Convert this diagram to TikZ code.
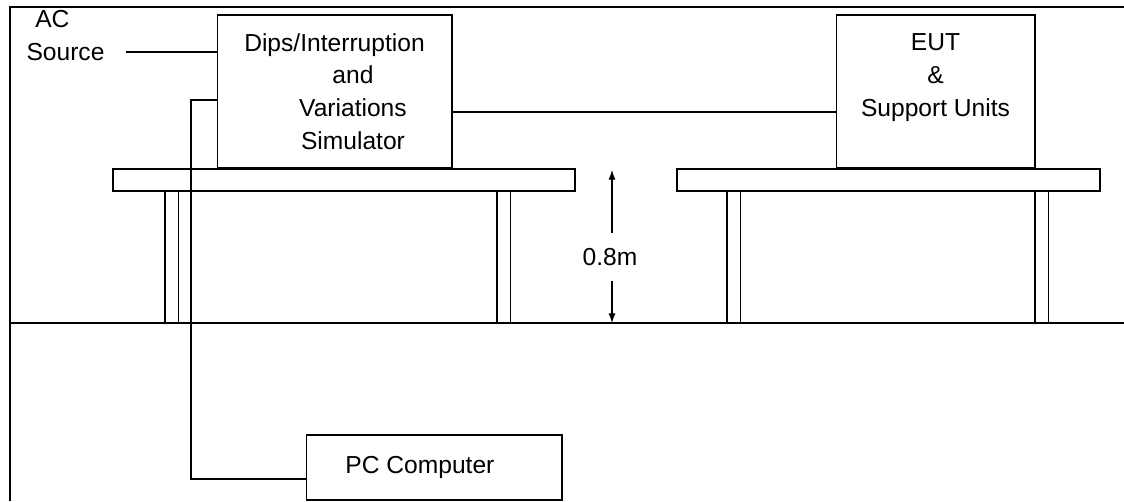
\documentclass[tikz,border=0pt]{standalone}
\usepackage{fontspec}
\setmainfont{Liberation Sans}
\usetikzlibrary{arrows.meta,calc}
\newcommand\diagfont{\fontsize{14}{18.7}\selectfont}

\begin{document}
\begin{tikzpicture}[x=0.02cm,y=-0.02cm,line width=0.6pt,
  unit/.style={draw,inner sep=0pt,align=center,font=\diagfont},
  frameline/.style={line width=1.3pt},
  dimarrow/.style={-{Latex[length=5.5pt,width=4pt]}}]
  \useasboundingbox (0,0) rectangle (1124,501);
  % frame
  \draw[frameline] (10,501) -- (10,7) -- (1124,7);
  % ground
  \draw (10,323) -- (1124,323);
  % tables
  \draw (113,169) rectangle (575,191);
  \draw (677,169) rectangle (1100,191);
  \foreach \lx in {165,497,727,1035}
    \draw (\lx,191) -- (\lx,323) (\lx+13.5,191) -- (\lx+13.5,323);
  % units
  \node[unit,minimum width=4.7cm,minimum height=3.06cm] (sim) at (334.5,91.5)
    {Dips/Interruption\\\hspace*{21pt}and\\\hspace*{21pt}Variations\\\hspace*{21pt}Simulator};
  \node[unit,minimum width=3.98cm,minimum height=3.06cm] (eut) at (935.5,91.5)
    {EUT\\\&\\Support Units\\\mbox{}};
  \node[unit,minimum width=5.12cm,minimum height=1.3cm] (pc) at (434,467.5)
    {PC Computer\hspace*{16pt}};
  \node[font=\diagfont,align=left,anchor=north west,inner sep=0pt] (ac) at (26,10)
    {\hspace*{5pt}AC\\Source};
  % cables
  \coordinate (acend) at (126,52);
  \coordinate (pcup) at (191,100);
  \coordinate (pcdown) at (191,479);
  \coordinate (link) at (500,112);
  \draw (acend) -- (sim.west |- acend);
  \draw (sim.west |- pcup) -- (pcup) -- (pcdown) -- (pc.west |- pcdown);
  \draw (sim.east |- link) -- (eut.west |- link);
  % height
  \node[font=\diagfont,inner xsep=0pt,inner ysep=8.5pt] (dim) at (610,257) {0.8m};
  \coordinate (dimtop) at (612,170);
  \coordinate (dimbot) at (612,323);
  \draw[dimarrow] (dim.north -| dimtop) -- (dimtop);
  \draw[dimarrow] (dim.south -| dimbot) -- (dimbot);
\end{tikzpicture}
\end{document}
